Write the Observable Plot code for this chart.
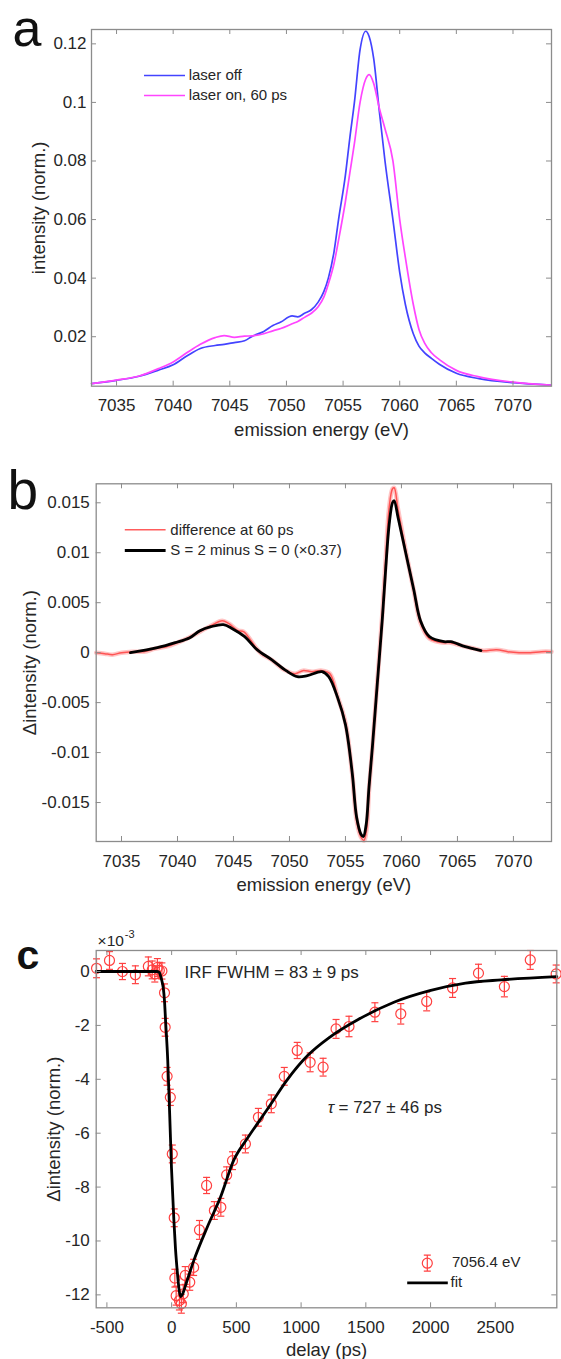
<!DOCTYPE html>
<html><head><meta charset="utf-8">
<script src="https://cdn.jsdelivr.net/npm/d3@7"></script>
<script src="https://cdn.jsdelivr.net/npm/@observablehq/plot@0.6"></script>
<style>
body{margin:0;background:#fff;}
#fig{position:relative;width:561px;height:1359px;overflow:hidden;background:#fff;}
#fig svg{position:absolute;left:0;}
</style></head><body><div id="fig"></div><script>
// ---------- Panel a data ----------
const aEnergy = [7032.8,7035,7037,7038.7,7040,7041.2,7042.4,7043.7,7044.5,7045.4,7046.3,7047,7048,7048.8,7049.5,7050.5,7051,7051.6,7052.2,7052.8,7053.3,7053.7,7054.2,7054.6,7055.2,7055.6,7056.0,7056.5,7057.0,7057.3,7057.7,7058.2,7058.7,7059.4,7060.0,7060.5,7061.2,7061.7,7062.2,7062.8,7063.5,7065,7067,7070,7073.3];
const aLaserOff = [0.0040,0.0051,0.0065,0.0086,0.0104,0.0134,0.0160,0.0170,0.0174,0.0180,0.0186,0.0202,0.0218,0.0238,0.0250,0.0271,0.0268,0.0280,0.0292,0.0318,0.0354,0.0400,0.0490,0.0600,0.0750,0.0880,0.1000,0.1180,0.1243,0.1225,0.1150,0.0970,0.0800,0.0600,0.0420,0.0310,0.0210,0.0168,0.0145,0.0126,0.0106,0.0075,0.0057,0.0043,0.0035];
const aLaserOn = [0.0040,0.0052,0.0066,0.0091,0.0114,0.0145,0.0174,0.0197,0.0204,0.0198,0.0202,0.0203,0.0210,0.0220,0.0228,0.0244,0.0252,0.0266,0.0280,0.0302,0.0335,0.0380,0.0450,0.0530,0.0660,0.0760,0.0860,0.1000,0.1080,0.1095,0.1065,0.0980,0.0910,0.0800,0.0600,0.0470,0.0310,0.0225,0.0178,0.0145,0.0122,0.0085,0.0063,0.0045,0.0035];
const aXTicks = [7035,7040,7045,7050,7055,7060,7065,7070];
const aYTicks = [0.02,0.04,0.06,0.08,0.1,0.12];
const aSeriesNames = ["laser off","laser on, 60 ps"];

// ---------- Panel b data ----------
const bDiffEnergy = [7032.74,7033.5,7034.2,7035,7036,7037,7038,7039,7040,7041,7042,7043,7044,7044.6,7045.4,7045.9,7046.5,7047,7047.5,7048.5,7049.5,7050.5,7051.2,7052,7052.9,7053.6,7054.3,7055.0,7055.6,7056.0,7056.4,7056.65,7056.9,7057.1,7057.4,7057.85,7058.3,7058.6,7058.9,7059.2,7059.35,7059.7,7060.4,7061.1,7061.7,7062.5,7063.2,7063.8,7064.4,7065.7,7066.5,7067.3,7068.5,7069.5,7070.5,7071.5,7072.5,7073.4];
const bDiff = [0,-0.0001,-0.0002,0,0.0001,0.0001,0.0004,0.0006,0.0010,0.0015,0.0021,0.0027,0.0032,0.0029,0.0022,0.0021,0.0013,0.0005,-0.0001,-0.0008,-0.0017,-0.0021,-0.0018,-0.0019,-0.0018,-0.0021,-0.0044,-0.0070,-0.0121,-0.0168,-0.0185,-0.0188,-0.0176,-0.0138,-0.0096,-0.0028,0.0040,0.0095,0.0145,0.0164,0.0165,0.0143,0.0101,0.0062,0.0030,0.0014,0.0011,0.0010,0.0010,0.0006,0.0004,0.0002,0.0003,0.0001,0,0,0.0001,0.0001];
const bCalcEnergy = [7035.8,7038.2,7039.8,7041.1,7042.0,7043.0,7044.1,7044.9,7046.0,7047.1,7048.4,7049.7,7050.7,7051.6,7052.9,7053.5,7054.3,7055.0,7055.6,7056.0,7056.4,7056.6,7056.85,7057.1,7057.4,7057.85,7058.3,7058.6,7058.9,7059.2,7059.35,7059.7,7060.4,7061.1,7061.7,7062.5,7063.8,7064.4,7065.7,7067.1];
const bCalc = [0,0.0005,0.0010,0.0015,0.0022,0.0026,0.0028,0.0024,0.0016,0.0003,-0.0007,-0.0018,-0.0024,-0.0023,-0.0019,-0.0024,-0.0045,-0.0072,-0.0120,-0.0165,-0.0182,-0.0184,-0.0172,-0.0135,-0.0095,-0.0030,0.0035,0.0085,0.0128,0.0150,0.0152,0.0135,0.0099,0.0063,0.0032,0.0016,0.0011,0.0011,0.0006,0.0002];
const bXTicks = [7035,7040,7045,7050,7055,7060,7065,7070];
const bYTicks = [-0.015,-0.01,-0.005,0,0.005,0.01,0.015];
const bSeriesNames = ["difference at 60 ps","S = 2 minus S = 0 (\u00d70.37)"];

// ---------- Panel c data (x10^-3) ----------
const cDelay = [-580,-480,-380,-280,-180,-150,-130,-110,-95,-75,-55,-50,-35,-10,5,20,25,35,60,75,90,105,140,170,215,270,330,380,425,470,570,670,770,870,970,1070,1170,1270,1370,1570,1770,1970,2170,2370,2570,2770,2970];
const cSignal = [0.12,0.41,0,-0.12,0.19,0.06,-0.09,0.15,0.04,0.02,-0.79,-2.07,-3.89,-4.67,-6.77,-9.14,-11.38,-12.03,-12.21,-12.33,-11.96,-11.28,-11.53,-10.98,-9.59,-7.94,-8.87,-8.75,-7.55,-7.02,-6.40,-5.41,-4.91,-3.89,-2.93,-3.37,-3.55,-2.13,-2.04,-1.51,-1.57,-1.11,-0.61,-0.06,-0.56,0.43,-0.09];
const cError = [0.35,0.33,0.3,0.33,0.35,0.33,0.3,0.33,0.3,0.3,0.33,0.33,0.33,0.3,0.33,0.33,0.33,0.35,0.35,0.35,0.33,0.33,0.3,0.3,0.35,0.3,0.33,0.33,0.3,0.33,0.33,0.33,0.33,0.33,0.3,0.35,0.33,0.35,0.38,0.35,0.38,0.35,0.35,0.33,0.38,0.35,0.33];
const cFitDelay = [-583,-111,-95,-86,-75,-65,-55,-47,-30,-15,-1,17,30,43,55,68,86,114,171,275,377,480,584,750,888,1054,1220,1441,1717,1994,2270,2547,2975];
const cFit = [0,0,-0.04,-0.15,-0.35,-0.6,-1.1,-1.8,-3.3,-5.3,-7.3,-9.2,-10.3,-11.1,-11.7,-12.06,-11.95,-11.55,-10.73,-9.49,-8.38,-7.0,-6.2,-5.04,-4.05,-3.1,-2.44,-1.78,-1.14,-0.71,-0.43,-0.31,-0.19];
const cXTicks = [-500,0,500,1000,1500,2000,2500];
const cYTicks = [-12,-10,-8,-6,-4,-2,0];
const cSeriesNames = ["7056.4 eV","fit"];

// ---------- styling helpers ----------
const FONT = "'Liberation Sans', Arial, Helvetica, sans-serif";
const FRAME = "#8c8c8c";
const TXT = "#262626";
const BLUE = "#4343ff", MAG = "#ff45ff", RED = "#ff4040";
const hline = half => ({draw(ctx){ctx.moveTo(-half,0);ctx.lineTo(half,0);}});
const capSym = hline(3.5);
const errSym = {draw(ctx){ctx.moveTo(0,-8);ctx.lineTo(0,8);ctx.moveTo(-3.5,-8);ctx.lineTo(3.5,-8);ctx.moveTo(-3.5,8);ctx.lineTo(3.5,8);}};

function boxTicks(xt, yt, W, H, mL, mR, mT, mB) {
  const iw = W - mL - mR, ih = H - mT - mB, L = 5;
  return [
    Plot.tickX(xt, {x: d => d, insetTop: ih - L, stroke: FRAME, strokeWidth: 1}),
    Plot.tickX(xt, {x: d => d, insetBottom: ih - L, stroke: FRAME, strokeWidth: 1}),
    Plot.tickY(yt, {y: d => d, insetRight: iw - L, stroke: FRAME, strokeWidth: 1}),
    Plot.tickY(yt, {y: d => d, insetLeft: iw - L, stroke: FRAME, strokeWidth: 1}),
    Plot.frame({stroke: FRAME, strokeWidth: 1.3})
  ];
}
const styleObj = {fontFamily: FONT, fontSize: "17px", color: TXT, background: "transparent", overflow: "visible"};
const fig = document.getElementById("fig");
function place(svg, top) { svg.style.top = top + "px"; fig.appendChild(svg); }

// ---------- Panel a ----------
{
  const W = 561, H = 440, mT = 29, mB = 54.3, mL = 91, mR = 10;
  const off = aEnergy.map((e, i) => ({e, v: aLaserOff[i]}));
  const on = aEnergy.map((e, i) => ({e, v: aLaserOn[i]}));
  const svg = Plot.plot({
    width: W, height: H, marginTop: mT, marginBottom: mB, marginLeft: mL, marginRight: mR,
    style: styleObj,
    x: {domain: [7032.79, 7073.4], axis: null},
    y: {domain: [0.0031, 0.1249], axis: null},
    marks: [
      Plot.line(off, {x: "e", y: "v", stroke: BLUE, strokeWidth: 1.7, curve: "monotone-x"}),
      Plot.line(on, {x: "e", y: "v", stroke: MAG, strokeWidth: 1.7, curve: "monotone-x"}),
      ...boxTicks(aXTicks, aYTicks, W, H, mL, mR, mT, mB),
      Plot.axisX({ticks: aXTicks, anchor: "bottom", tickSize: 0, tickPadding: 13, tickFormat: d => String(d), label: null, fill: TXT}),
      Plot.axisY({ticks: aYTicks, anchor: "left", tickSize: 0, tickPadding: 5, tickFormat: d => String(d), label: null, fill: TXT}),
      Plot.text(["emission energy (eV)"], {frameAnchor: "bottom", dy: 44, textAnchor: "middle", lineAnchor: "middle", fontSize: 18.5, fill: TXT}),
      Plot.text(["intensity (norm.)"], {frameAnchor: "left", dx: -52.2, rotate: -90, textAnchor: "middle", lineAnchor: "middle", fontSize: 18.5, fill: TXT}),
      Plot.dot([aSeriesNames[0]], {frameAnchor: "top-left", dx: 73, dy: 46, symbol: hline(20.5), stroke: BLUE, strokeWidth: 1.7, fill: "none"}),
      Plot.dot([aSeriesNames[1]], {frameAnchor: "top-left", dx: 73, dy: 66, symbol: hline(20.5), stroke: MAG, strokeWidth: 1.7, fill: "none"}),
      Plot.text([aSeriesNames[0]], {frameAnchor: "top-left", dx: 97.2, dy: 46, textAnchor: "start", lineAnchor: "middle", fontSize: 15, fill: TXT}),
      Plot.text([aSeriesNames[1]], {frameAnchor: "top-left", dx: 97.2, dy: 66, textAnchor: "start", lineAnchor: "middle", fontSize: 15, fill: TXT}),
      Plot.text(["a"], {frameAnchor: "top-left", dx: -79, dy: 16, textAnchor: "start", lineAnchor: "bottom", fontSize: 52, fill: "#111"})
    ]
  });
  place(svg, 0);
}

// ---------- Panel b ----------
{
  const W = 561, H = 460, mT = 43.3, mB = 59, mL = 95.7, mR = 10;
  const diff = bDiffEnergy.map((e, i) => ({e, v: bDiff[i]}));
  const calc = bCalcEnergy.map((e, i) => ({e, v: bCalc[i]}));
  const svg = Plot.plot({
    width: W, height: H, marginTop: mT, marginBottom: mB, marginLeft: mL, marginRight: mR,
    style: styleObj,
    x: {domain: [7032.74, 7073.4], axis: null},
    y: {domain: [-0.0189, 0.0169], axis: null},
    marks: [
      Plot.line(diff, {x: "e", y: "v", stroke: RED, strokeWidth: 4.5, strokeOpacity: 0.3, curve: "catmull-rom"}),
      Plot.line(diff, {x: "e", y: "v", stroke: RED, strokeWidth: 1.5, strokeOpacity: 0.85, curve: "catmull-rom"}),
      Plot.line(calc, {x: "e", y: "v", stroke: "#000", strokeWidth: 2.8, curve: "catmull-rom"}),
      ...boxTicks(bXTicks, bYTicks, W, H, mL, mR, mT, mB),
      Plot.axisX({ticks: bXTicks, anchor: "bottom", tickSize: 0, tickPadding: 13, tickFormat: d => String(d), label: null, fill: TXT}),
      Plot.axisY({ticks: bYTicks, anchor: "left", tickSize: 0, tickPadding: 6.4, tickFormat: d => String(d), label: null, fill: TXT}),
      Plot.text(["emission energy (eV)"], {frameAnchor: "bottom", dy: 44, textAnchor: "middle", lineAnchor: "middle", fontSize: 18.5, fill: TXT}),
      Plot.text(["\u0394intensity (norm.)"], {frameAnchor: "left", dx: -66.6, rotate: -90, textAnchor: "middle", lineAnchor: "middle", fontSize: 18.5, fill: TXT}),
      Plot.dot([bSeriesNames[0]], {frameAnchor: "top-left", dx: 49, dy: 46, symbol: hline(20.4), stroke: RED, strokeWidth: 1.5, strokeOpacity: 0.85, fill: "none"}),
      Plot.dot([bSeriesNames[1]], {frameAnchor: "top-left", dx: 49, dy: 66.7, symbol: hline(20.4), stroke: "#000", strokeWidth: 2.8, fill: "none"}),
      Plot.text([bSeriesNames[0]], {frameAnchor: "top-left", dx: 74.1, dy: 46, textAnchor: "start", lineAnchor: "middle", fontSize: 15, fill: TXT}),
      Plot.text([bSeriesNames[1]], {frameAnchor: "top-left", dx: 74.1, dy: 66.7, textAnchor: "start", lineAnchor: "middle", fontSize: 15, fill: TXT}),
      Plot.text(["b"], {frameAnchor: "top-left", dx: -88.7, dy: 24.7, textAnchor: "start", lineAnchor: "bottom", fontSize: 55, fill: "#111"})
    ]
  });
  place(svg, 440);
}

// ---------- Panel c ----------
{
  const W = 561, H = 459, mT = 50, mB = 51.7, mL = 95.7, mR = 4.7;
  const pts = cDelay.map((t, i) => ({t, v: cSignal[i], e: cError[i]}));
  const fit = cFitDelay.map((t, i) => ({t, v: cFit[i]}));
  const svg = Plot.plot({
    width: W, height: H, marginTop: mT, marginBottom: mB, marginLeft: mL, marginRight: mR,
    style: styleObj,
    x: {domain: [-582.6, 2975], axis: null},
    y: {domain: [-12.48, 0.78], axis: null},
    marks: [
      Plot.ruleX(pts, {x: "t", y1: d => d.v - d.e, y2: d => d.v + d.e, stroke: RED, strokeWidth: 1.2}),
      Plot.dot(pts, {x: "t", y: d => d.v - d.e, symbol: capSym, stroke: RED, strokeWidth: 1.2, fill: "none"}),
      Plot.dot(pts, {x: "t", y: d => d.v + d.e, symbol: capSym, stroke: RED, strokeWidth: 1.2, fill: "none"}),
      Plot.dot(pts, {x: "t", y: "v", r: 5, stroke: RED, strokeWidth: 1.2, fill: "none"}),
      Plot.line(fit, {x: "t", y: "v", stroke: "#000", strokeWidth: 2.8, curve: "monotone-x"}),
      ...boxTicks(cXTicks, cYTicks, W, H, mL, mR, mT, mB),
      Plot.axisX({ticks: cXTicks, anchor: "bottom", tickSize: 0, tickPadding: 12.7, tickFormat: d => String(d), label: null, fill: TXT}),
      Plot.axisY({ticks: cYTicks, anchor: "left", tickSize: 0, tickPadding: 6.4, tickFormat: d => String(d), label: null, fill: TXT}),
      Plot.text(["delay (ps)"], {frameAnchor: "bottom", dy: 42.7, textAnchor: "middle", lineAnchor: "middle", fontSize: 18.5, fill: TXT}),
      Plot.text(["\u0394intensity (norm.)"], {frameAnchor: "left", dx: -42.2, rotate: -90, textAnchor: "middle", lineAnchor: "middle", fontSize: 18.5, fill: TXT}),
      Plot.text(["\u00d710"], {frameAnchor: "top-left", dx: 1.4, dy: -5, textAnchor: "start", lineAnchor: "bottom", fontSize: 15.5, fill: TXT}),
      Plot.text(["-3"], {frameAnchor: "top-left", dx: 28.6, dy: -13, textAnchor: "start", lineAnchor: "bottom", fontSize: 11, fill: TXT}),
      Plot.text(["IRF FWHM = 83 \u00b1 9 ps"], {frameAnchor: "top-left", dx: 88.4, dy: 21.7, textAnchor: "start", lineAnchor: "middle", fontSize: 17, fill: TXT}),
      Plot.text(["\u03c4"], {frameAnchor: "top-left", dx: 231.6, dy: 157.3, textAnchor: "start", lineAnchor: "middle", fontSize: 17, fontStyle: "italic", fill: TXT}),
      Plot.text(["= 727 \u00b1 46 ps"], {frameAnchor: "top-left", dx: 242.3, dy: 157.3, textAnchor: "start", lineAnchor: "middle", fontSize: 17, fill: TXT}),
      Plot.dot([cSeriesNames[0]], {frameAnchor: "top-left", dx: 331.1, dy: 312.7, symbol: errSym, stroke: RED, strokeWidth: 1.2, fill: "none"}),
      Plot.dot([cSeriesNames[0]], {frameAnchor: "top-left", dx: 331.1, dy: 312.7, r: 5, stroke: RED, strokeWidth: 1.2, fill: "none"}),
      Plot.dot([cSeriesNames[1]], {frameAnchor: "top-left", dx: 331.3, dy: 332.3, symbol: hline(20.3), stroke: "#000", strokeWidth: 2.8, fill: "none"}),
      Plot.text([cSeriesNames[0]], {frameAnchor: "top-left", dx: 355.8, dy: 312, textAnchor: "start", lineAnchor: "middle", fontSize: 15, fill: TXT}),
      Plot.text([cSeriesNames[1]], {frameAnchor: "top-left", dx: 354.3, dy: 332, textAnchor: "start", lineAnchor: "middle", fontSize: 15, fill: TXT}),
      Plot.text(["c"], {frameAnchor: "top-left", dx: -79.7, dy: 18, textAnchor: "start", lineAnchor: "bottom", fontSize: 41, fontWeight: "bold", fill: "#111"})
    ]
  });
  place(svg, 900);
}
</script></body></html>
